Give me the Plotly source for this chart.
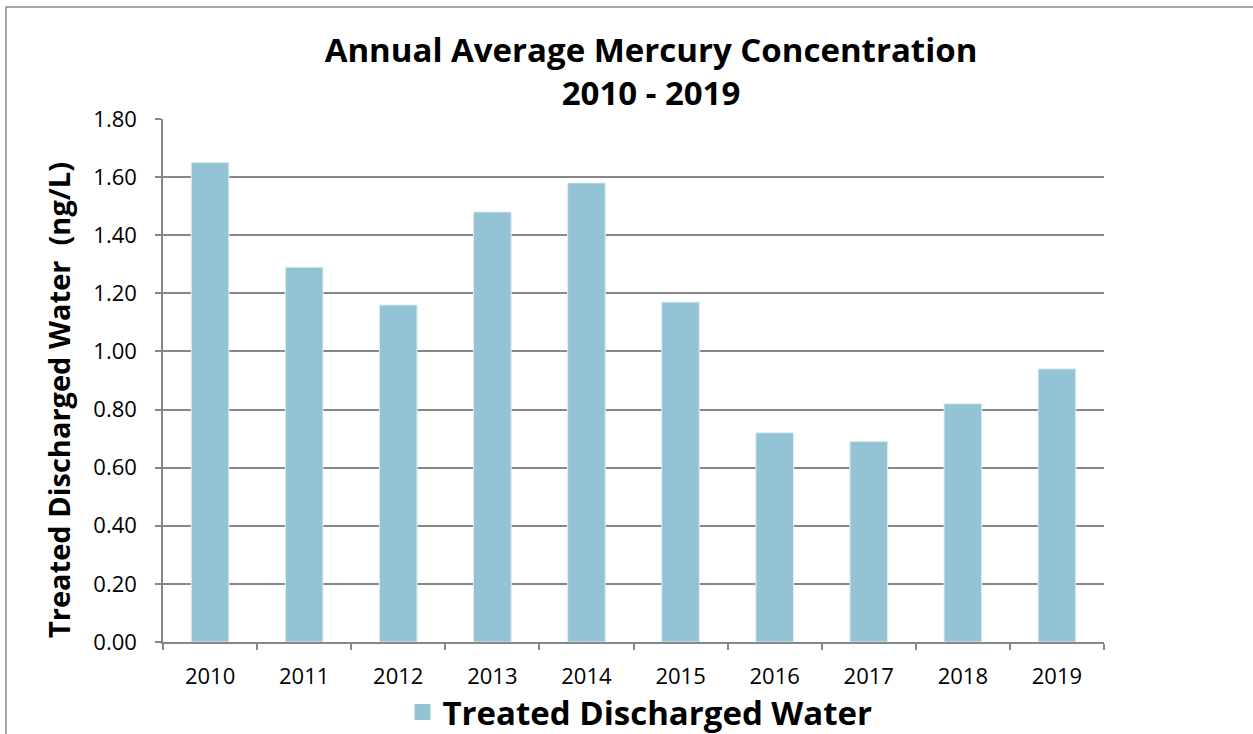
import plotly.graph_objects as go

years = ["2010", "2011", "2012", "2013", "2014", "2015", "2016", "2017", "2018", "2019"]
values = [1.65, 1.29, 1.16, 1.48, 1.58, 1.17, 0.72, 0.69, 0.82, 0.94]
series_name = "Treated Discharged Water"
y_title = "Treated Discharged Water  (ng/L)"
y_ticks = [0.0, 0.2, 0.4, 0.6, 0.8, 1.0, 1.2, 1.4, 1.6, 1.8]

bar_color = "#93C3D4"
grid_color = "#878787"
font_family = "Open Sans, Noto Sans, sans-serif"

fig = go.Figure()
fig.add_trace(go.Bar(
    x=years, y=values, name=series_name,
    marker=dict(color=bar_color, line=dict(color="#DDEEF3", width=1)),
    showlegend=False,
))
# legend entry with a larger square marker
fig.add_trace(go.Scatter(
    x=[None], y=[None], mode="markers", name=series_name,
    marker=dict(symbol="square", size=22, color=bar_color),
    showlegend=True,
))

fig.update_layout(
    width=1253, height=734,
    paper_bgcolor="white", plot_bgcolor="white",
    margin=dict(l=163, r=149, t=119, b=92, autoexpand=False),
    bargap=0.6,
    font=dict(family=font_family, color="black"),
    title=dict(
        text="<b>Annual Average Mercury Concentration<br>2010 - 2019</b>",
        x=651 / 1253, xanchor="center",
        y=1 - 62 / 734, yanchor="middle",
        font=dict(size=33, family=font_family, color="black"),
    ),
    legend=dict(
        orientation="h", x=(640 - 163) / 941, xanchor="center",
        y=-(712 - 642) / 523, yanchor="middle",
        bgcolor="rgba(0,0,0,0)",
        font=dict(size=33, family=font_family, color="black", weight="bold"),
        itemsizing="trace",
    ),
    showlegend=True,
)

fig.update_xaxes(
    type="category",
    showline=True, linecolor=grid_color, linewidth=1.5,
    ticks="outside", tickson="boundaries", ticklen=6, tickcolor=grid_color, tickwidth=1.5,
    tickfont=dict(size=22, family=font_family, color="black"),
    ticklabelstandoff=14,
    showgrid=False,
)
fig.update_yaxes(
    range=[0, 1.8], tickvals=y_ticks, tickformat=".2f",
    showline=True, linecolor=grid_color, linewidth=1.5,
    ticks="outside", ticklen=6, tickcolor=grid_color, tickwidth=1.5,
    showgrid=True, gridcolor=grid_color, gridwidth=1.5,
    zeroline=False,
    tickfont=dict(size=22, family=font_family, color="black"),
    ticklabelstandoff=14,
)

# y-axis title placed as in the reference (slightly below plot centre)
fig.add_annotation(
    text="<b>" + y_title + "</b>", textangle=-90,
    xref="paper", yref="paper",
    x=(58 - 163) / 941, y=1 - (400 - 119) / 523,
    xanchor="center", yanchor="middle", showarrow=False,
    font=dict(size=29, family=font_family, color="black"),
)

# outer chart border (cropped at right and bottom in reference)
fig.add_shape(type="rect", xref="paper", yref="paper",
              x0=(6 - 163) / 941, x1=(1300 - 163) / 941,
              y0=-(800 - 642) / 523, y1=1 + (119 - 7) / 523,
              line=dict(color="#888888", width=1.5), fillcolor="rgba(0,0,0,0)", layer="below")

fig.write_html("out.html", config={"displayModeBar": False},
               post_script="document.body.style.margin='0';")
